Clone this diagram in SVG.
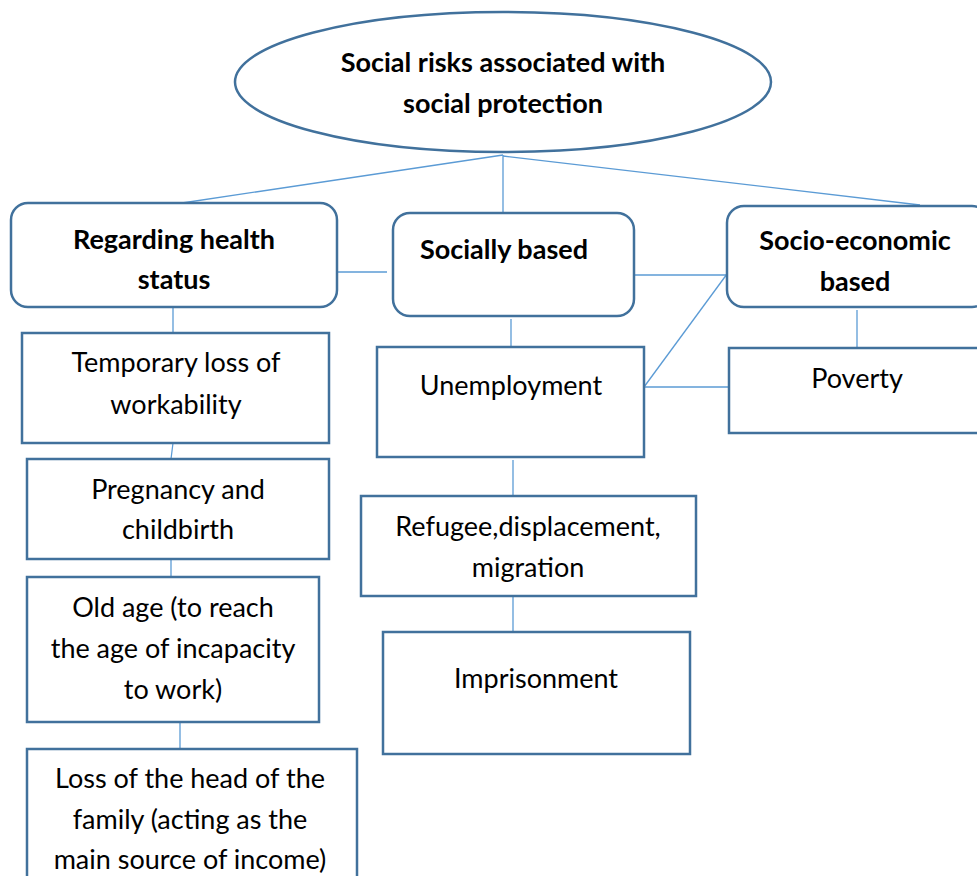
<svg xmlns="http://www.w3.org/2000/svg" width="977" height="876" viewBox="0 0 977 876">
<style>
.box{fill:#fff;stroke:#41719c;stroke-width:2.5}
.con line{stroke:#5b9bd5;stroke-width:1.3}
text{font-family:Lato,"Liberation Sans",sans-serif;font-size:27px;fill:#000;text-anchor:middle}
.b{font-weight:bold}
</style>
<rect width="977" height="876" fill="#fff"/>
<g id="connectors" class="con">
<line x1="503" y1="155" x2="182" y2="203"/>
<line x1="503" y1="155" x2="503" y2="213"/>
<line x1="503" y1="156" x2="920" y2="205"/>
<line x1="330" y1="272" x2="387" y2="272"/>
<line x1="627" y1="275" x2="727" y2="275"/>
<line x1="727" y1="274" x2="644" y2="387"/>
<line x1="644" y1="387" x2="729" y2="387"/>
<line x1="857" y1="310" x2="857" y2="348"/>
<line x1="173" y1="308" x2="173" y2="333"/>
<line x1="173" y1="443" x2="171" y2="459"/>
<line x1="171" y1="559" x2="171" y2="577"/>
<line x1="180" y1="722" x2="180" y2="749"/>
<line x1="511" y1="319" x2="511" y2="347"/>
<line x1="513" y1="460" x2="513" y2="496"/>
<line x1="513" y1="596" x2="513" y2="632"/>
</g>
<g id="root">
<ellipse class="box" cx="503" cy="82" rx="268" ry="70" stroke-width="3"/>
<text class="b" x="503" y="72">Social risks associated with</text>
<text class="b" x="503" y="113">social protection</text>
</g>
<g id="health">
<rect class="box" x="11" y="203" width="326" height="104" rx="17"/>
<text class="b" x="174" y="249">Regarding health</text>
<text class="b" x="174" y="289">status</text>
</g>
<g id="social">
<rect class="box" x="393" y="213" width="241" height="103" rx="17"/>
<text class="b" x="504" y="259">Socially based</text>
</g>
<g id="socioeconomic">
<rect class="box" x="727" y="206" width="262" height="101" rx="17"/>
<text class="b" x="855" y="250">Socio-economic</text>
<text class="b" x="855" y="291">based</text>
</g>
<g id="temporary">
<rect class="box" x="22" y="333" width="307" height="110"/>
<text x="176" y="372">Temporary loss of</text>
<text x="176" y="414">workability</text>
</g>
<g id="pregnancy">
<rect class="box" x="27" y="459" width="302" height="100"/>
<text x="178" y="499">Pregnancy and</text>
<text x="178" y="539">childbirth</text>
</g>
<g id="oldage">
<rect class="box" x="27" y="577" width="292" height="145"/>
<text x="173" y="617">Old age (to reach</text>
<text x="173" y="658">the age of incapacity</text>
<text x="173" y="699">to work)</text>
</g>
<g id="losshead">
<rect class="box" x="27" y="749" width="330" height="140"/>
<text x="190" y="788">Loss of the head of the</text>
<text x="190" y="829">family (acting as the</text>
<text x="190" y="869">main source of income)</text>
</g>
<g id="unemployment">
<rect class="box" x="377" y="347" width="267" height="110"/>
<text x="511" y="395">Unemployment</text>
</g>
<g id="refugee">
<rect class="box" x="361" y="496" width="335" height="100"/>
<text x="528" y="536">Refugee,displacement,</text>
<text x="528" y="577">migration</text>
</g>
<g id="imprisonment">
<rect class="box" x="383" y="632" width="307" height="122"/>
<text x="536" y="688">Imprisonment</text>
</g>
<g id="poverty">
<rect class="box" x="729" y="348" width="260" height="85"/>
<text x="857" y="388">Poverty</text>
</g>
</svg>
